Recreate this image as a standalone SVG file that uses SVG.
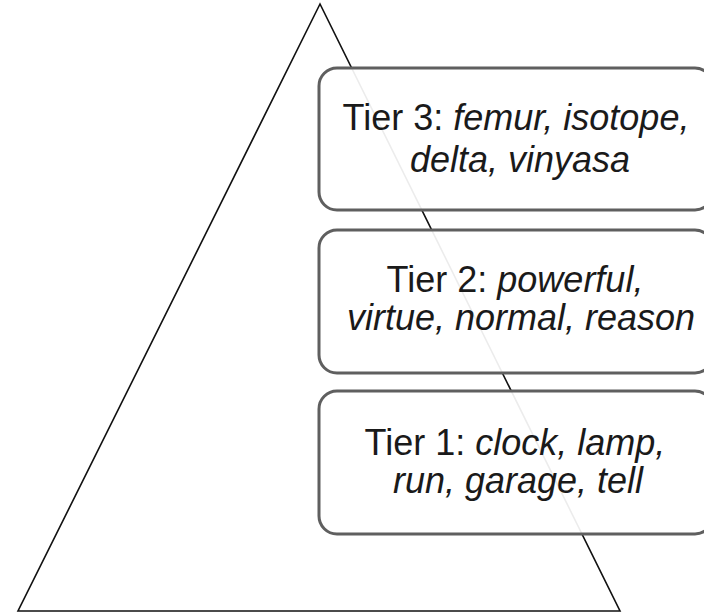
<svg xmlns="http://www.w3.org/2000/svg" width="704" height="614" viewBox="0 0 704 614">
<style>
.box{fill:#ffffff;fill-opacity:0.92;stroke:#5f5f5f;stroke-width:3}
.t{font-family:"Liberation Sans",Arial,sans-serif;font-size:36px;fill:#1a1a1a;text-anchor:middle}
.i{font-style:italic}
</style>
<rect width="704" height="614" fill="#ffffff"/>
<g id="pyramid">
<polygon points="320,4 18,611 620,611" fill="none" stroke="#111111" stroke-width="1.6" stroke-linejoin="miter"/>
</g>
<g id="tier3">
<rect class="box" x="319" y="68" width="394" height="142" rx="18"/>
<text class="t" x="516" y="130">Tier 3: <tspan class="i">femur, isotope,</tspan></text>
<text class="t i" x="520" y="172">delta, vinyasa</text>
</g>
<g id="tier2">
<rect class="box" x="319" y="230" width="394" height="143" rx="18"/>
<text class="t" x="515" y="292">Tier 2: <tspan class="i">powerful,</tspan></text>
<text class="t i" x="521" y="330">virtue, normal, reason</text>
</g>
<g id="tier1">
<rect class="box" x="319" y="391" width="394" height="143" rx="18"/>
<text class="t" x="515" y="455">Tier 1: <tspan class="i">clock, lamp,</tspan></text>
<text class="t i" x="518" y="493">run, garage, tell</text>
</g>
<g id="connectors"></g>
</svg>
